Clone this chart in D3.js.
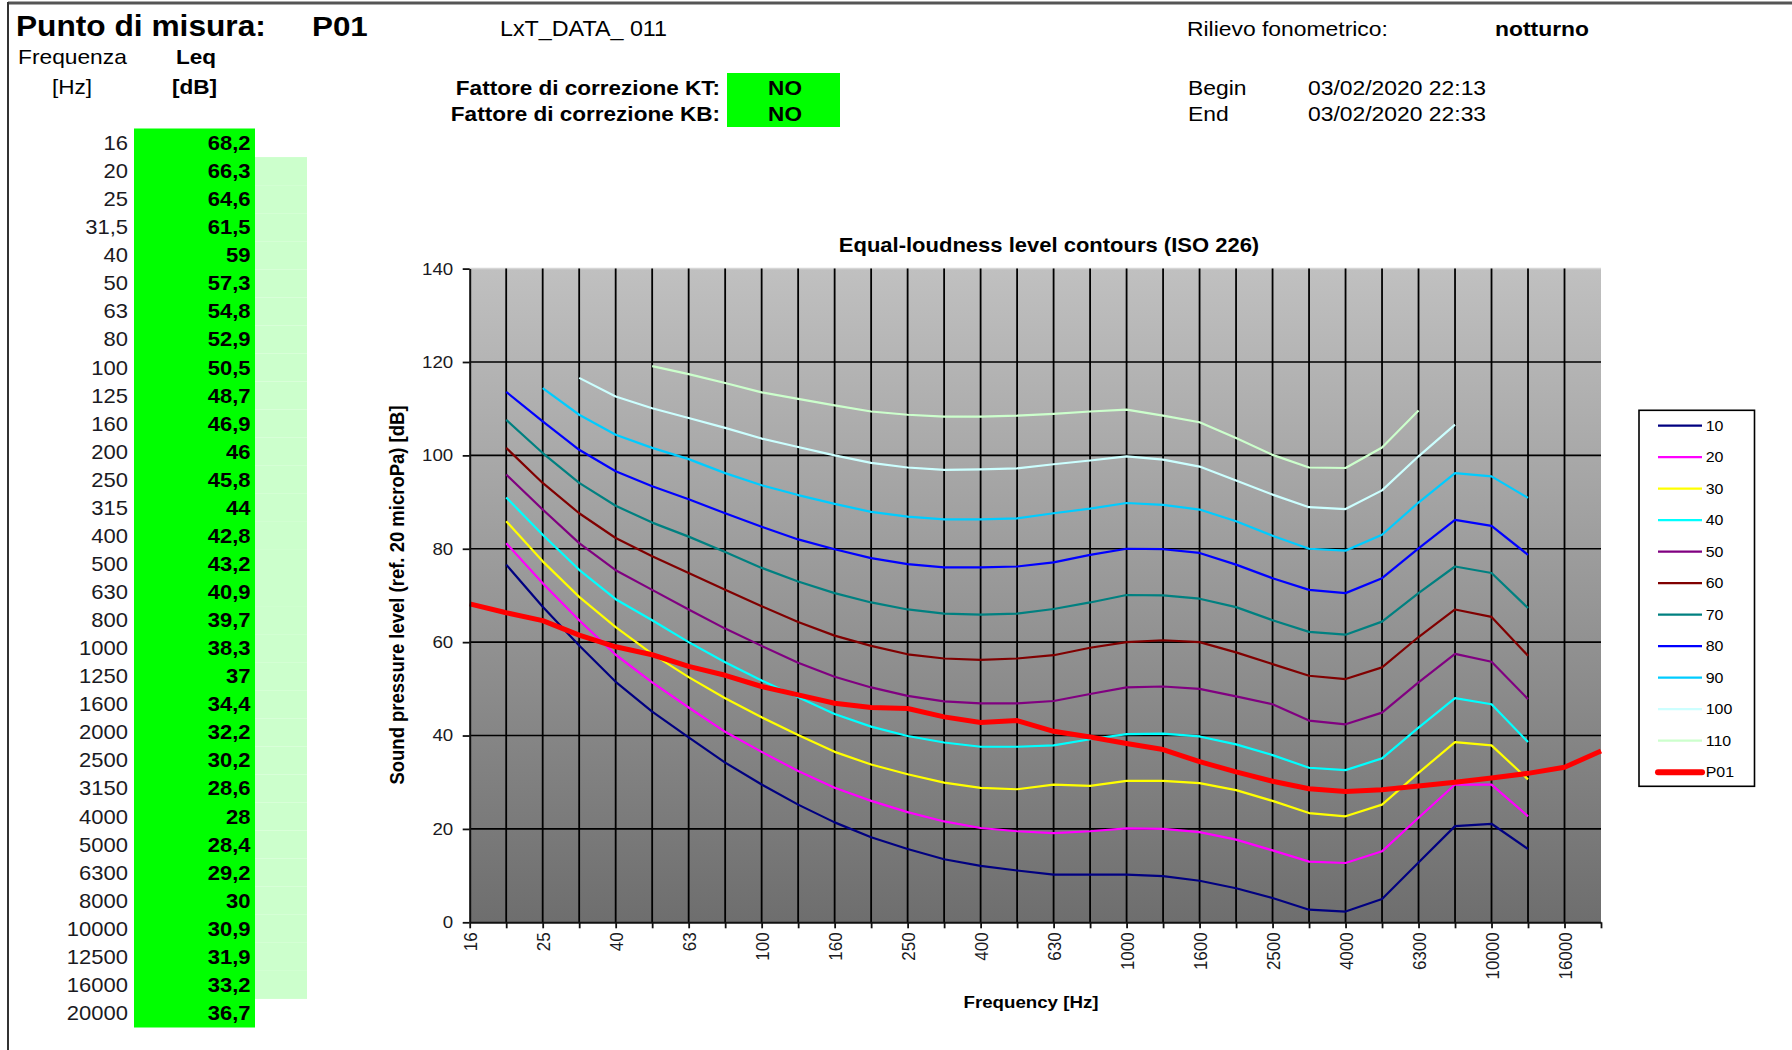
<!DOCTYPE html>
<html>
<head>
<meta charset="utf-8">
<script src="https://cdn.jsdelivr.net/npm/d3@7"></script>
<style>
  body { margin: 0; background: #fff; }
  svg text { font-family: "Liberation Sans", Arial, sans-serif; fill: #000; }
</style>
</head>
<body>
<div id="page"></div>
<script>
// frequency bands (table rows and chart categories)
const freqLabels = ["16", "20", "25", "31,5", "40", "50", "63", "80", "100", "125", "160", "200",
  "250", "315", "400", "500", "630", "800", "1000", "1250", "1600", "2000", "2500", "3150",
  "4000", "5000", "6300", "8000", "10000", "12500", "16000", "20000"];

// measured Leq per band, P01
const leqValues = [68.2, 66.3, 64.6, 61.5, 59, 57.3, 54.8, 52.9, 50.5, 48.7, 46.9, 46, 45.8, 44,
  42.8, 43.2, 40.9, 39.7, 38.3, 37, 34.4, 32.2, 30.2, 28.6, 28, 28.4, 29.2, 30, 30.9, 31.9, 33.2, 36.7];

// equal-loudness contours (null = no point)
const phon10 = [null, 76.6, 67.6, 59.3, 51.5, 45.1, 39.6, 34.2, 29.5, 25.2, 21.4, 18.2, 15.7, 13.5, 12.1, 11.1,
  10.2, 10.2, 10.2, 9.9, 8.9, 7.3, 5.2, 2.7, 2.3, 5.0, 12.8, 20.6, 21.1, 15.7, null, null];
const phon20 = [null, 81.2, 72.6, 64.7, 57.3, 51.4, 46.0, 40.8, 36.5, 32.4, 28.8, 26.0, 23.6, 21.6, 20.2, 19.5,
  19.1, 19.5, 20.1, 20.0, 19.3, 17.7, 15.4, 13.0, 12.7, 15.2, 22.4, 29.5, 29.5, 22.7, null, null];
const phon30 = [null, 85.9, 77.3, 69.7, 63.2, 57.5, 52.5, 48.0, 43.9, 40.1, 36.5, 33.8, 31.7, 29.9, 28.8, 28.5,
  29.5, 29.2, 30.3, 30.3, 29.8, 28.3, 26.0, 23.4, 22.7, 25.2, 32.0, 38.6, 37.9, 30.6, null, null];
const phon40 = [null, 91.0, 83.0, 75.5, 69.2, 64.7, 60.0, 55.7, 51.8, 48.2, 44.6, 41.9, 39.9, 38.5, 37.6, 37.6,
  37.9, 39.2, 40.3, 40.4, 39.8, 38.1, 35.8, 33.1, 32.6, 35.1, 41.7, 48.0, 46.7, 38.6, null, null];
const phon50 = [null, 95.9, 88.4, 81.2, 75.4, 71.2, 67.0, 62.9, 59.2, 55.6, 52.6, 50.3, 48.5, 47.3, 46.9, 46.9,
  47.4, 48.9, 50.3, 50.5, 50.0, 48.4, 46.7, 43.2, 42.4, 44.9, 51.4, 57.5, 55.8, 47.8, null, null];
const phon60 = [null, 101.6, 94.1, 87.6, 82.3, 78.4, 74.8, 71.2, 67.7, 64.3, 61.4, 59.2, 57.4, 56.5, 56.2, 56.5,
  57.2, 58.8, 60.0, 60.4, 60.0, 57.8, 55.3, 52.8, 52.1, 54.6, 61.1, 67.0, 65.4, 57.1, null, null];
const phon70 = [null, 107.6, 100.5, 94.1, 89.2, 85.6, 82.6, 79.3, 75.9, 73.0, 70.5, 68.5, 67.0, 66.1, 65.9, 66.1,
  67.1, 68.5, 70.1, 70.0, 69.3, 67.5, 64.7, 62.2, 61.6, 64.4, 70.5, 76.2, 74.8, 67.3, null, null];
const phon80 = [null, 113.6, 107.3, 101.2, 96.6, 93.4, 90.6, 87.6, 84.7, 82.0, 79.9, 78.0, 76.7, 76.0, 76.0, 76.2,
  77.1, 78.7, 80.0, 79.9, 79.1, 76.6, 73.7, 71.2, 70.5, 73.7, 80.1, 86.2, 84.9, 78.7, null, null];
const phon90 = [null, null, 114.4, 108.7, 104.4, 101.6, 99.2, 96.2, 93.6, 91.5, 89.6, 87.9, 86.9, 86.3, 86.3, 86.5,
  87.6, 88.6, 89.8, 89.4, 88.4, 85.9, 82.8, 80.0, 79.6, 83.0, 89.9, 96.2, 95.5, 90.9, null, null];
const phon100 = [null, null, null, 116.6, 112.6, 110.1, 108.0, 105.9, 103.6, 101.8, 100.0, 98.4, 97.4, 96.9, 97.0, 97.2,
  98.1, 98.9, 99.8, 99.1, 97.6, 94.6, 91.6, 88.9, 88.5, 92.5, 99.8, 106.6, null, null, null, null];
const phon110 = [null, null, null, null, null, 119.1, 117.4, 115.5, 113.5, 112.1, 110.7, 109.4, 108.7, 108.3, 108.3, 108.5,
  108.9, 109.4, 109.8, 108.5, 107.1, 103.7, 100.1, 97.4, 97.3, 101.7, 109.6, null, null, null, null, null];

const phonNames = ["10", "20", "30", "40", "50", "60", "70", "80", "90", "100", "110"];
const phonColors = ["#000080", "#ff00ff", "#ffff00", "#00ffff", "#800080", "#800000",
  "#008080", "#0000ff", "#00ccff", "#ccffff", "#ccffcc"];
const yTicks = [0, 20, 40, 60, 80, 100, 120, 140];

const contours = [phon10, phon20, phon30, phon40, phon50, phon60, phon70, phon80, phon90, phon100, phon110];

const SX = 1.1; // the sheet text is a bit wide

let svg = d3.select("#page").append("svg")
  .attr("width", 1792)
  .attr("height", 1050);

let label = (g, str, x, y, size, weight, anchor) =>
  g.append("text")
    .attr("transform", `translate(${x},${y}) scale(${SX},1)`)
    .attr("font-size", size)
    .attr("font-weight", weight || "normal")
    .attr("text-anchor", anchor || "start")
    .text(str);

//Sheet frame
svg.append("line").attr("x1", 8).attr("x2", 1792).attr("y1", 3).attr("y2", 3)
  .attr("stroke", "#555").attr("stroke-width", 3);
svg.append("line").attr("x1", 8).attr("x2", 8).attr("y1", 2).attr("y2", 1050)
  .attr("stroke", "#333").attr("stroke-width", 2);

//Header
label(svg, "Punto di misura:", 16, 36, 28.8, "bold");
label(svg, "P01", 312, 36, 28.5, "bold");
label(svg, "LxT_DATA_ 011", 500, 36, 21.2);
label(svg, "Rilievo fonometrico:", 1187, 36, 20.8);
label(svg, "notturno", 1495, 36, 20.8, "bold");
label(svg, "Frequenza", 18, 64, 20.7);
label(svg, "Leq", 176, 64, 20.5, "bold");
label(svg, "[Hz]", 52, 94, 20.5);
label(svg, "[dB]", 172, 94, 20.5, "bold");

svg.append("rect").attr("x", 727).attr("y", 73).attr("width", 113).attr("height", 54).attr("fill", "#00ff00");
label(svg, "Fattore di correzione KT:", 720, 95, 20.5, "bold", "end");
label(svg, "Fattore di correzione KB:", 720, 121, 20.5, "bold", "end");
label(svg, "NO", 785, 95, 20.5, "bold", "middle");
label(svg, "NO", 785, 121, 20.5, "bold", "middle");

label(svg, "Begin", 1188, 95, 20.8);
label(svg, "End", 1188, 121, 20.8);
label(svg, "03/02/2020 22:13", 1308, 95, 20.8);
label(svg, "03/02/2020 22:33", 1308, 121, 20.8);

//Table
let rowScale = d3.scaleBand().domain(freqLabels).range([129, 1027]);
let table = svg.append("g");

table.selectAll("rect.iso")
  .data(freqLabels.slice(1, 31))
  .enter()
  .append("rect")
  .attr("class", "iso")
  .attr("x", 255)
  .attr("y", (d) => rowScale(d))
  .attr("width", 52)
  .attr("height", rowScale.bandwidth())
  .attr("fill", "#ccffcc");

table.selectAll("rect.leq")
  .data(freqLabels)
  .enter()
  .append("rect")
  .attr("class", "leq")
  .attr("x", 134)
  .attr("y", (d) => rowScale(d) - 0.5)
  .attr("width", 121)
  .attr("height", rowScale.bandwidth() + 1)
  .attr("fill", "#00ff00");

freqLabels.forEach((f, i) => {
  let yb = rowScale(f) + rowScale.bandwidth() / 2 + 7;
  label(table, f, 128, yb, 20, "normal", "end").style("fill", "#1a1a22");
  label(table, String(leqValues[i]).replace(".", ","), 250.5, yb, 20, "bold", "end");
});

//Chart
const plot = { left: 469.7, right: 1601, top: 268.6, bottom: 922.3 };

let x = d3.scalePoint().domain(freqLabels).range([plot.left, plot.right]);
let y = d3.scaleLinear().domain([0, 140]).range([plot.bottom, plot.top]);

let defs = svg.append("defs");
let grad = defs.append("linearGradient").attr("id", "plotBg")
  .attr("x1", 0).attr("y1", 0).attr("x2", 0).attr("y2", 1);
grad.append("stop").attr("offset", "0%").attr("stop-color", "#c0c0c0");
grad.append("stop").attr("offset", "100%").attr("stop-color", "#6e6e6e");

let chart = svg.append("g");

chart.append("rect")
  .attr("x", plot.left).attr("y", plot.top)
  .attr("width", plot.right - plot.left).attr("height", plot.bottom - plot.top)
  .attr("fill", "url(#plotBg)");

chart.append("line")
  .attr("x1", plot.left).attr("x2", plot.right)
  .attr("y1", y(140)).attr("y2", y(140))
  .attr("stroke", "#d6d6d6").attr("stroke-width", 1.5);

// horizontal grid
chart.selectAll("line.hgrid")
  .data(yTicks.slice(1, -1))
  .enter()
  .append("line")
  .attr("class", "hgrid")
  .attr("x1", plot.left).attr("x2", plot.right)
  .attr("y1", (d) => y(d)).attr("y2", (d) => y(d))
  .attr("stroke", "#000").attr("stroke-width", 1.6);

// vertical grid
chart.selectAll("line.vgrid")
  .data(freqLabels.slice(1, -1))
  .enter()
  .append("line")
  .attr("class", "vgrid")
  .attr("x1", (d) => x(d)).attr("x2", (d) => x(d))
  .attr("y1", plot.top).attr("y2", plot.bottom)
  .attr("stroke", "#000").attr("stroke-width", 1.8);

let lineGen = d3.line()
  .defined((d) => d != null)
  .x((d, i) => x(freqLabels[i]))
  .y((d) => y(d));

chart.selectAll("path.phon")
  .data(contours)
  .enter()
  .append("path")
  .attr("class", "phon")
  .attr("d", (d) => lineGen(d))
  .attr("fill", "none")
  .attr("stroke", (d, i) => phonColors[i])
  .attr("stroke-width", 2.2)
  .attr("stroke-linejoin", "round");

chart.append("path")
  .attr("d", lineGen(leqValues))
  .attr("fill", "none")
  .attr("stroke", "#ff0000")
  .attr("stroke-width", 5)
  .attr("stroke-linejoin", "round");

// axes
let yAxis = chart.append("g")
  .attr("transform", `translate(${plot.left},0)`)
  .call(d3.axisLeft(y).tickValues(yTicks).tickSize(7).tickSizeOuter(0).tickPadding(8));
yAxis.select(".domain").attr("stroke", "#111").attr("stroke-width", 2);
yAxis.selectAll(".tick line").attr("stroke", "#111").attr("stroke-width", 1.8);
yAxis.selectAll(".tick text")
  .attr("font-size", 17)
  .attr("transform", `scale(${SX},1)`)
  .style("fill", "#1a1a22");

let xAxis = chart.append("g")
  .attr("transform", `translate(0,${plot.bottom})`)
  .call(d3.axisBottom(x).tickSize(6).tickSizeOuter(0)
    .tickFormat((d, i) => (i % 2 === 0 ? d : "")));
xAxis.select(".domain").attr("stroke", "#111").attr("stroke-width", 2);
xAxis.selectAll(".tick line").attr("stroke", "#111").attr("stroke-width", 1.8);
xAxis.selectAll(".tick text")
  .attr("font-size", 17)
  .attr("x", -10)
  .attr("y", 0)
  .attr("dy", "0.35em")
  .attr("text-anchor", "end")
  .attr("transform", `scale(${SX},1) rotate(-90)`)
  .style("fill", "#1a1a22");
yAxis.attr("font-family", null);
xAxis.attr("font-family", null);

label(svg, "Equal-loudness level contours (ISO 226)", 1049, 252, 20, "bold", "middle");
label(svg, "Frequency [Hz]", 1031, 1008, 17, "bold", "middle");
svg.append("text")
  .attr("transform", `translate(396.6,595) scale(${SX},1) rotate(-90)`)
  .attr("dy", "0.35em")
  .attr("font-size", 18.5)
  .attr("font-weight", "bold")
  .attr("text-anchor", "middle")
  .text("Sound pressure level (ref. 20 microPa) [dB]");

//Legend
let legendKeys = phonNames.concat(["P01"]);
let legendColors = phonColors.concat(["#ff0000"]);
let legendY = d3.scalePoint().domain(legendKeys).range([425.7, 772.2]);
let legend = svg.append("g");

legend.append("rect")
  .attr("x", 1639).attr("y", 410.3).attr("width", 115.5).attr("height", 376)
  .attr("fill", "#fff").attr("stroke", "#000").attr("stroke-width", 1.6);

legend.selectAll("line")
  .data(legendKeys)
  .enter()
  .append("line")
  .attr("x1", 1658).attr("x2", 1702)
  .attr("y1", (d) => legendY(d)).attr("y2", (d) => legendY(d))
  .attr("stroke", (d, i) => legendColors[i])
  .attr("stroke-width", (d) => (d === "P01" ? 6 : 2.2))
  .attr("stroke-linecap", (d) => (d === "P01" ? "round" : "butt"));

legendKeys.forEach((k) => {
  label(legend, k, 1705.7, legendY(k) + 5, 14.5);
});
</script>
</body>
</html>
